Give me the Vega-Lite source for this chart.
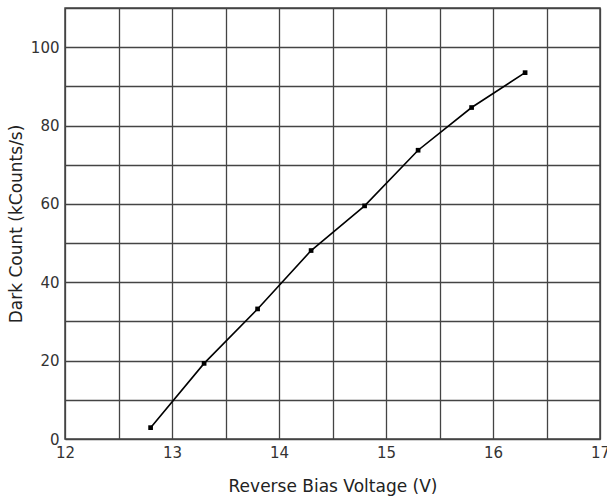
{
  "$schema": "https://vega.github.io/schema/vega-lite/v6.json",
  "autosize": "none",
  "width": 535,
  "height": 431,
  "padding": {"left": 65, "top": 8, "right": 7, "bottom": 58},
  "background": "white",
  "config": {
    "view": {"stroke": "#444", "strokeWidth": 1.5},
    "font": "DejaVu Sans",
    "axis": {
      "gridColor": "#444",
      "gridOpacity": 1,
      "gridWidth": 1.3,
      "domain": false,
      "ticks": false,
      "labelFont": "DejaVu Sans",
      "labelFontSize": 15,
      "labelColor": "#333",
      "titleFont": "DejaVu Sans",
      "titleFontSize": 17,
      "titleFontWeight": "normal",
      "titleColor": "#222"
    }
  },
  "data": {
    "values": [
      {"v": 12.8, "c": 2.9},
      {"v": 13.3, "c": 19.3},
      {"v": 13.8, "c": 33.2},
      {"v": 14.3, "c": 48.1},
      {"v": 14.8, "c": 59.5},
      {"v": 15.3, "c": 73.7},
      {"v": 15.8, "c": 84.6},
      {"v": 16.3, "c": 93.5}
    ]
  },
  "encoding": {
    "x": {
      "field": "v", "type": "quantitative",
      "scale": {"domain": [12, 17], "nice": false, "zero": false},
      "axis": {
        "title": "Reverse Bias Voltage (V)",
        "values": [12, 12.5, 13, 13.5, 14, 14.5, 15, 15.5, 16, 16.5, 17],
        "labelExpr": "datum.value % 1 === 0 ? format(datum.value, 'd') : ''",
        "labelPadding": 6,
        "titlePadding": 18,
        "labelFlush": false
      }
    },
    "y": {
      "field": "c", "type": "quantitative",
      "scale": {"domain": [0, 110], "nice": false},
      "axis": {
        "title": "Dark Count (kCounts/s)",
        "values": [0, 10, 20, 30, 40, 50, 60, 70, 80, 90, 100, 110],
        "labelExpr": "(datum.value % 20 === 0 && datum.value <= 100) ? format(datum.value, 'd') : ''",
        "labelPadding": 6,
        "titlePadding": 5,
        "labelFlush": false
      }
    }
  },
  "layer": [
    {"mark": {"type": "line", "color": "black", "strokeWidth": 1.6}},
    {"mark": {"type": "point", "shape": "square", "filled": true, "color": "black", "size": 22, "opacity": 1}}
  ]
}
